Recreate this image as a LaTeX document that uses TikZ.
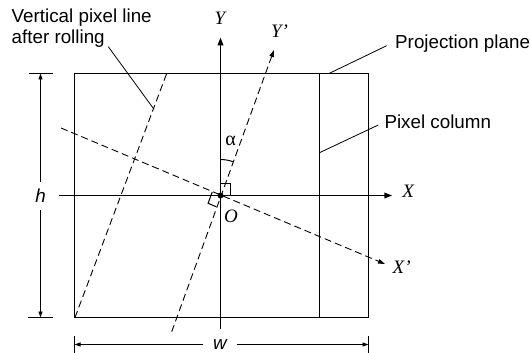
\documentclass[tikz,border=0pt]{standalone}
\usepackage{fontspec}
\setmainfont{Liberation Sans}
\newfontfamily\tms{Liberation Serif}
\usetikzlibrary{arrows.meta}
\begin{document}
\begin{tikzpicture}[x=1pt,y=-1pt,
  frame/.style={line width=1pt},
  axisln/.style={line width=1.8pt,-{Triangle[length=8pt,width=5.5pt]}},
  dashln/.style={line width=0.9pt,dash pattern=on 7pt off 4pt},
  leader/.style={line width=0.8pt},
  dimln/.style={line width=0.9pt,-{Triangle[length=6pt,width=4pt]}},
  txt/.style={inner sep=0pt,font=\fontsize{18.8}{22}\selectfont},
  dimlbl/.style={inner sep=0pt,font=\fontsize{18.8}{22}\selectfont\itshape},
  mlbl/.style={inner sep=0pt,font=\fontsize{19}{22}\selectfont\tms\itshape},
  glbl/.style={inner sep=0pt,font=\fontsize{20}{22}\selectfont\tms}
]
\useasboundingbox (0,0) rectangle (531,353);

% key points
\coordinate (O) at (220.5,195.5);
\coordinate (TL) at (74.5,73.5);
\coordinate (BR) at (368.5,317.5);
\coordinate (PCt) at (319.5,73.5);
\coordinate (PCb) at (319.5,317.5);

% projection plane and pixel column
\draw[frame] (TL) rectangle (BR);
\draw[frame] (PCt) -- (PCb);

% rolled lines
\coordinate (XPs) at (61,128);
\coordinate (XPe) at (385,264);
\coordinate (YPs) at (171.7,331.7);
\coordinate (YPe) at (274,50);
\coordinate (RLb) at (75,317.5);
\coordinate (RLt) at (166.7,73.5);
\draw[dashln,-{Triangle[length=7pt,width=4.5pt]}] (XPs) -- (XPe);
\draw[dashln,-{Triangle[length=7pt,width=4.5pt]}] (YPs) -- (YPe);
\draw[dashln] (RLb) -- (RLt);

% axes
\coordinate (Ys) at (220.5,329.3);
\coordinate (Ye) at (220.5,37.3);
\coordinate (Xs) at (58.7,195.5);
\coordinate (Xe) at (392.3,195.5);
\draw[axisln] (Ys) -- (Ye);
\draw[axisln] (Xs) -- (Xe);

% angle and right-angle marks
\draw[frame] ([yshift=36pt]O) arc[start angle=-90,end angle=-70,radius=36];
\draw[frame] ([yshift=12pt]O) -- ++(10,0) -- ++(0,12);
\coordinate (RA) at (212.2,192);
\coordinate (RB) at (208.1,203.3);
\coordinate (RC) at (216.4,206.8);
\draw[frame] (RA) -- (RB) -- (RC);
\node[circle,fill,inner sep=0pt,minimum size=6pt] (Odot) at (O) {};

% axis labels
\node[mlbl] (Ylab) at (220,18) {Y};
\node[mlbl] (YPlab) at (279.5,31.5) {Y’};
\node[mlbl] (Xlab) at (408.3,191) {X};
\node[mlbl] (XPlab) at (401.7,267.3) {X’};
\node[mlbl] (Olab) at (231,216) {O};
\node[glbl] (alab) at (230.7,141) {α};

% annotations
\node[txt,anchor=base west] (vpl1) at (11.5,22.7) {Vertical pixel line};
\node[txt,anchor=base west] (vpl2) at (11.5,44) {after rolling};
\node[txt,anchor=base west] (pp) at (395,49) {Projection plane};
\node[txt,anchor=base west] (pc) at (384.3,128.3) {Pixel column};
\coordinate (L1a) at (108.3,46.7);
\coordinate (L1b) at (154,109.3);
\coordinate (L2a) at (386.7,45.7);
\coordinate (L2b) at (329,73.5);
\coordinate (L3a) at (378.3,125);
\coordinate (L3b) at (319.5,152.7);
\draw[leader] (L1a) -- (L1b);
\draw[leader] (L2a) -- (L2b);
\draw[leader] (L3a) -- (L3b);

% dimension h
\node[dimlbl,inner ysep=7pt] (hlab) at (40.5,195.7) {h};
\coordinate (hTop) at (40.5,73.5);
\coordinate (hBot) at (40.5,317.5);
\draw[dimln] (hlab.north) -- (hTop);
\draw[dimln] (hlab.south) -- (hBot);
\coordinate (hT1) at (28.8,73.5);
\coordinate (hT2) at (52.5,73.5);
\coordinate (hB1) at (28.3,317.5);
\coordinate (hB2) at (52.7,317.5);
\draw[frame] (hT1) -- (hT2);
\draw[frame] (hB1) -- (hB2);

% dimension w
\node[dimlbl,inner xsep=10pt] (wlab) at (220,344.5) {w};
\coordinate (wL) at (74.5,344.5);
\coordinate (wR) at (368.5,344.5);
\draw[dimln] (wlab.west) -- (wL);
\draw[dimln] (wlab.east) -- (wR);
\coordinate (wL1) at (74.5,336);
\coordinate (wL2) at (74.5,353);
\coordinate (wR1) at (368.5,336);
\coordinate (wR2) at (368.5,353);
\draw[frame] (wL1) -- (wL2);
\draw[frame] (wR1) -- (wR2);
\end{tikzpicture}
\end{document}
